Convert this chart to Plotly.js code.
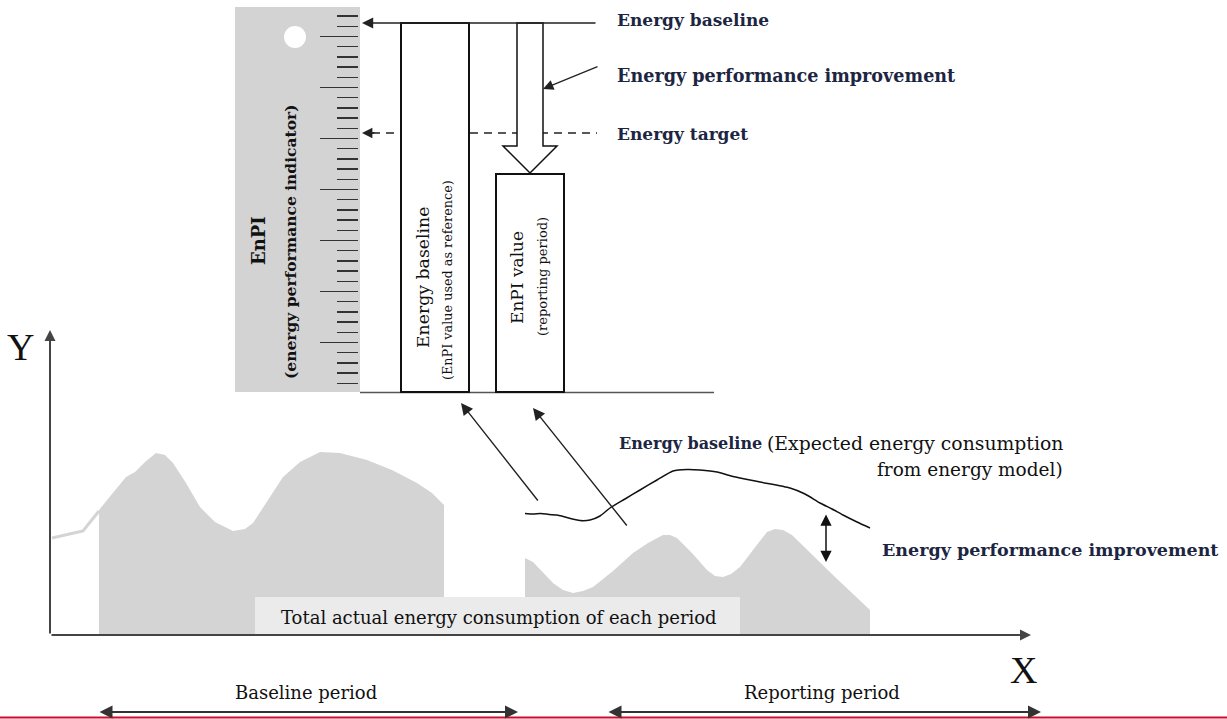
<!DOCTYPE html>
<html>
<head>
<meta charset="utf-8">
<script src="https://cdn.plot.ly/plotly-3.0.1.min.js"></script>
<style>html,body{margin:0;padding:0;background:#fff;}#chart{width:1227px;height:719px;}</style>
</head>
<body>
<div id="chart"></div>
<script>
// ---- Data (diagram units; y grows downward) ----
// Baseline period: actual energy consumption profile
const baselineAreaX = [99, 99, 112, 126, 135, 145, 156, 165, 173, 186, 200, 215, 233, 245, 253, 268, 283, 300, 320, 340, 367, 392, 417, 432, 444, 444];
const baselineAreaY = [635, 510, 494, 477, 472, 462, 453, 455, 463, 483, 507, 522, 531, 529, 523, 500, 477, 462, 452, 453, 460, 470, 483, 493, 505, 635];
// Lead-in consumption before baseline period
const leadInX = [52, 83, 99];
const leadInY = [538, 531, 511];
// Reporting period: actual energy consumption profile
const reportingAreaX = [525, 525, 533, 543, 553, 563, 573, 583, 593, 613, 633, 648, 663, 670, 677, 692, 707, 715, 723, 731, 740, 753, 767, 775, 783, 792, 800, 835, 870, 870];
const reportingAreaY = [635, 558, 562, 572, 583, 590, 593, 591, 587, 571, 553, 543, 535, 535, 538, 553, 570, 576, 577, 574, 567, 550, 532, 529, 530, 535, 543, 577, 610, 635];
// Energy baseline (expected consumption from energy model)
const modelX = [525, 533, 541, 549, 557, 565, 580, 590, 600, 610, 625, 640, 657, 673, 687, 700, 717, 733, 760, 790, 805, 820, 832, 843, 857, 870];
const modelY = [513.5, 514, 513.5, 514.5, 515, 517, 520.5, 520, 516, 508, 499, 490, 480, 471, 469.5, 470, 472, 476.5, 482, 488, 494, 503, 509, 515, 522, 528];
// EnPI bars: [left, right, top, bottom]
const enpiBaselineBar = [401, 469, 23, 392];
const enpiReportingBar = [496, 564, 174, 392];
const enpiBaselineLevel = 23;
const enpiTargetLevel = 133;
// EnPI ruler scale
const rulerRange = [392, 7];
const rulerMajorStart = 36.5, rulerMajorStep = 51, rulerMinorStep = 10.2;

const navy = '#1c2541';
const serif = '"DejaVu Serif", "Liberation Serif", serif';

const traces = [
  {x: baselineAreaX, y: baselineAreaY, type: 'scatter', mode: 'lines', fill: 'toself', fillcolor: '#d3d4d3', line: {width: 0}, hoverinfo: 'skip', showlegend: false},
  {x: reportingAreaX, y: reportingAreaY, type: 'scatter', mode: 'lines', fill: 'toself', fillcolor: '#d3d4d3', line: {width: 0}, hoverinfo: 'skip', showlegend: false},
  {x: leadInX, y: leadInY, type: 'scatter', mode: 'lines', line: {color: '#d3d4d3', width: 3}, hoverinfo: 'skip', showlegend: false},
  {x: modelX, y: modelY, type: 'scatter', mode: 'lines', line: {color: '#111', width: 1.5, shape: 'spline', smoothing: 0.6}, hoverinfo: 'skip', showlegend: false},
  {x: [null], y: [null], xaxis: 'x', yaxis: 'y2', type: 'scatter', mode: 'markers', hoverinfo: 'skip', showlegend: false}
];

const shapes = [
  // ruler body
  {type: 'rect', xref: 'x', yref: 'y', x0: 235, x1: 360, y0: 7, y1: 392, fillcolor: '#d3d3d3', line: {width: 0}, layer: 'below'},
  {type: 'circle', xref: 'x', yref: 'y', x0: 284, x1: 306, y0: 26, y1: 48, fillcolor: '#fff', line: {width: 0}, layer: 'below'},
  // totals box
  {type: 'rect', xref: 'x', yref: 'y', x0: 255, x1: 740, y0: 597, y1: 635, fillcolor: '#ebebeb', line: {width: 0}},
  // energy target dashed line
  {type: 'line', xref: 'x', yref: 'y', x0: 372, x1: 597, y0: enpiTargetLevel, y1: enpiTargetLevel, line: {color: '#222', width: 1.3, dash: '8px,6px'}},
  // base line of EnPI bars
  {type: 'line', xref: 'x', yref: 'y', x0: 360, x1: 714, y0: 392.5, y1: 392.5, line: {color: '#555', width: 1.5}},
  // bars
  {type: 'rect', xref: 'x', yref: 'y', x0: enpiBaselineBar[0], x1: enpiBaselineBar[1], y0: enpiBaselineBar[2], y1: enpiBaselineBar[3], fillcolor: '#fff', line: {color: '#111', width: 2}},
  {type: 'rect', xref: 'x', yref: 'y', x0: enpiReportingBar[0], x1: enpiReportingBar[1], y0: enpiReportingBar[2], y1: enpiReportingBar[3], fillcolor: '#fff', line: {color: '#111', width: 2}},
  // hollow improvement arrow
  {type: 'path', xref: 'x', yref: 'y', path: 'M517,23 L543,23 L543,146 L557,146 L530,173 L503,146 L517,146 Z', fillcolor: '#fff', line: {color: '#111', width: 1.5}},
  // bottom red rule
  {type: 'line', xref: 'paper', yref: 'y', x0: 0, x1: 1, y0: 717.5, y1: 717.5, line: {color: '#c8102e', width: 2}}
];

function arrow(x, y, ax, ay, opts) {
  return Object.assign({x: x, y: y, ax: ax, ay: ay, xref: 'x', yref: 'y', axref: 'x', ayref: 'y', text: '', showarrow: true,
    arrowhead: 2, arrowsize: 1.3, arrowwidth: 1.5, arrowcolor: '#222', standoff: 0}, opts || {});
}
function label(text, x, y, size, opts) {
  return Object.assign({x: x, y: y, xref: 'x', yref: 'y', text: text, showarrow: false,
    font: {family: serif, size: size, color: '#111'}}, opts || {});
}
function boldLabel(text, x, y, size, opts) {
  return label('<b>' + text + '</b>', x, y, size, Object.assign({xanchor: 'left', font: {family: serif, size: size, color: navy}}, opts || {}));
}
const letterFont = {family: '"Liberation Serif", serif', size: 38, color: '#111'};

const annotations = [
  // axes
  arrow(50, 330, 50, 635, {arrowcolor: '#444', arrowwidth: 2, arrowsize: 1.1}),
  arrow(1031, 635, 50, 635, {arrowcolor: '#444', arrowwidth: 2, arrowsize: 1.1}),
  label('Y', 20, 347, 38, {font: letterFont}),
  label('X', 1023, 670, 38, {font: letterFont}),
  // EnPI pointers
  arrow(362, enpiBaselineLevel, 597, enpiBaselineLevel, {arrowwidth: 1.4, arrowsize: 1.6}),
  arrow(362, enpiTargetLevel, 376, enpiTargetLevel, {arrowwidth: 1.3, arrowsize: 1.6}),
  arrow(543, 89, 599, 66, {arrowwidth: 1.3, arrowsize: 1.6}),
  // links from lower chart to bars
  arrow(461, 403, 539, 502, {arrowwidth: 1.4, arrowsize: 1.7}),
  arrow(533, 408, 628, 527, {arrowwidth: 1.4, arrowsize: 1.7}),
  // improvement double arrow
  arrow(826, 562, 826, 513, {arrowside: 'end+start', startarrowhead: 2, startarrowsize: 1.5, arrowsize: 1.5, arrowcolor: '#111'}),
  // period arrows
  arrow(518, 712, 98, 712, {arrowside: 'end+start', startarrowhead: 2, startarrowsize: 1.3, arrowsize: 1.3, arrowwidth: 2, arrowcolor: '#333'}),
  arrow(1041, 712, 607, 712, {arrowside: 'end+start', startarrowhead: 2, startarrowsize: 1.3, arrowsize: 1.3, arrowwidth: 2, arrowcolor: '#333'}),
  label('Baseline period', 306, 692, 18),
  label('Reporting period', 822, 692, 18),
  label('Total actual energy consumption of each period', 499, 617, 18),
  // right-hand labels
  boldLabel('Energy baseline', 615, 20, 17),
  boldLabel('Energy performance improvement', 615, 75, 17.6),
  boldLabel('Energy target', 615, 134, 17),
  boldLabel('Energy baseline', 617, 443, 16),
  label('(Expected energy consumption', 765, 443, 18.8, {xanchor: 'left'}),
  label('from energy model)', 1065, 469, 18.5, {xanchor: 'right'}),
  boldLabel('Energy performance improvement', 880, 550, 17.5),
  // ruler labels
  label('<b>EnPI</b>', 258, 241, 18, {textangle: -90}),
  label('<b>(energy performance indicator)</b>', 290, 242, 15.5, {textangle: -90}),
  // bar labels
  label('Energy baseline', 423, 278, 17.3, {textangle: -90}),
  label('(EnPI value used as reference)', 447, 280, 12.8, {textangle: -90}),
  label('EnPI value', 517, 278, 17, {textangle: -90}),
  label('(reporting period)', 542, 277, 13, {textangle: -90})
];

const layout = {
  width: 1227, height: 719,
  margin: {l: 0, r: 0, t: 0, b: 0},
  paper_bgcolor: '#fff', plot_bgcolor: 'rgba(0,0,0,0)',
  showlegend: false,
  xaxis: {range: [0, 1227], visible: false, fixedrange: true},
  yaxis: {range: [719, 0], visible: false, fixedrange: true},
  yaxis2: {
    range: rulerRange, domain: [(719 - rulerRange[0]) / 719, (719 - rulerRange[1]) / 719],
    anchor: 'free', position: 358 / 1227, side: 'left',
    showline: false, showgrid: false, zeroline: false, showticklabels: false,
    tickmode: 'linear', tick0: rulerMajorStart, dtick: rulerMajorStep,
    ticks: 'outside', ticklen: 38, tickwidth: 1.5, tickcolor: '#333',
    minor: {tickmode: 'linear', tick0: rulerMajorStart, dtick: rulerMinorStep, ticks: 'outside', ticklen: 21, tickwidth: 1.5, tickcolor: '#333', showgrid: false},
    fixedrange: true
  },
  shapes: shapes,
  annotations: annotations
};

Plotly.newPlot('chart', traces, layout, {staticPlot: true, displayModeBar: false});
</script>
</body>
</html>
